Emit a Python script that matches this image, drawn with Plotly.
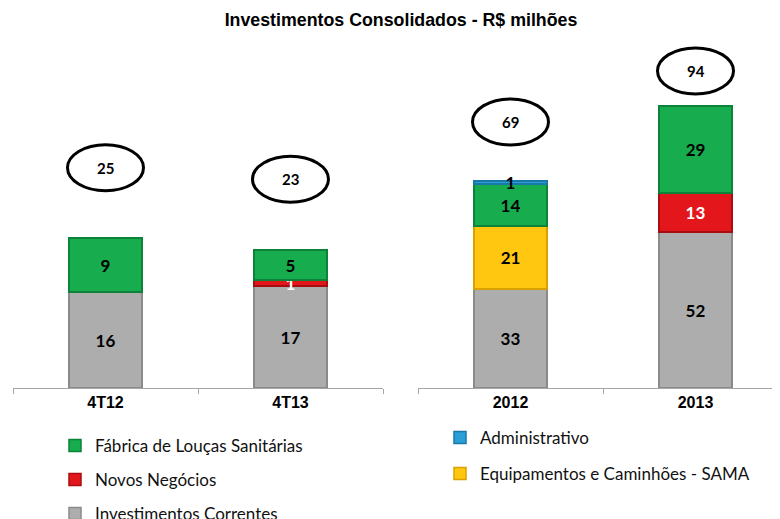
import plotly.graph_objects as go

# ---- data ----
cats_q = ["4T12", "4T13"]
cats_y = ["2012", "2013"]

inv_correntes_q = [16, 17]
novos_negocios_q = [None, 1]
fabrica_q = [9, 5]

inv_correntes_y = [33, 52]
novos_negocios_y = [None, 13]
sama_y = [21, None]
fabrica_y = [14, 29]
administrativo_y = [1, None]

names = {
    "ic": "Investimentos Correntes",
    "nn": "Novos Negócios",
    "sama": "Equipamentos e Caminhões - SAMA",
    "fab": "Fábrica de Louças Sanitárias",
    "adm": "Administrativo",
}

# ---- styles ----
fill = {"ic": "#ADADAD", "nn": "#E3171B", "sama": "#FFC70F", "fab": "#17AD4E", "adm": "#2A9ED6"}
edge = {"ic": "#8A8A8A", "nn": "#A80E10", "sama": "#D9A100", "fab": "#0D8239", "adm": "#1A78A8"}
txtcol = {"ic": "black", "nn": "white", "sama": "black", "fab": "black", "adm": "black"}
legend_of = {"fab": "legend", "nn": "legend2", "ic": "legend3", "adm": "legend4", "sama": "legend5"}

W, H = 780, 519
OFF = 8  # page offset of the plot div (body margin)

def px_x(s):  # screen x -> paper fraction
    return (s - OFF) / W

def px_y(s):  # screen y -> paper fraction
    return 1 - (s - OFF) / H

base_px = 388 - OFF
bw = 0.395

fig = go.Figure()

def add(key, cats, vals, xa, ya, showlegend):
    fig.add_trace(go.Bar(
        x=cats, y=vals, name=names[key], xaxis=xa, yaxis=ya,
        width=bw,
        marker=dict(color=fill[key], line=dict(color=edge[key], width=1.5)),
        text=[("" if v is None else str(v)) for v in vals],
        textposition="inside", insidetextanchor="middle", constraintext="none",
        textangle=0,
        textfont=dict(family="Lato", size=17, color=txtcol[key], weight="bold"),
        legend=legend_of[key], legendgroup=key,
        showlegend=showlegend, hoverinfo="skip",
    ))

# stacking order bottom -> top
add("ic", cats_q, inv_correntes_q, "x", "y", True)
add("nn", cats_q, novos_negocios_q, "x", "y", True)
add("fab", cats_q, fabrica_q, "x", "y", True)

add("ic", cats_y, inv_correntes_y, "x2", "y2", False)
add("nn", cats_y, novos_negocios_y, "x2", "y2", False)
add("sama", cats_y, sama_y, "x2", "y2", True)
add("fab", cats_y, fabrica_y, "x2", "y2", False)
add("adm", cats_y, administrativo_y, "x2", "y2", True)

# totals with ellipses
def tot(*series):
    return [sum(v for v in vals if v is not None) for vals in zip(*series)]

totals_q = tot(inv_correntes_q, novos_negocios_q, fabrica_q)
totals_y = tot(inv_correntes_y, novos_negocios_y, sama_y, fabrica_y, administrativo_y)
ell_off_q = [11.7, 11.8]
ell_off_y = [19.7, 11.7]

for xr, yr, totals, offs in (("x", "y", totals_q, ell_off_q), ("x2", "y2", totals_y, ell_off_y)):
    for i, (t, o) in enumerate(zip(totals, offs)):
        fig.add_shape(type="circle", xref=xr, yref=yr,
                      xsizemode="pixel", ysizemode="pixel",
                      xanchor=i, yanchor=t + o,
                      x0=-38, x1=38, y0=-23, y1=23,
                      line=dict(color="black", width=3))
        fig.add_annotation(x=i, y=t + o, xref=xr, yref=yr, text=str(t), showarrow=False,
                           font=dict(family="Lato", size=15, color="black", weight="bold"))

ydom0 = (H - base_px) / H
axis_common = dict(
    type="category", showline=True, linecolor="#A6A6A6", linewidth=1,
    ticks="outside", tickson="boundaries", ticklen=5, tickcolor="#A6A6A6",
    tickfont=dict(family="Liberation Sans", size=16, color="black", weight="bold"),
    showgrid=False, zeroline=False, fixedrange=True,
)

leg_font = dict(family="Lato", size=17, color="#111111")
def leg(xs, ys):
    return dict(x=px_x(xs), y=px_y(ys), xanchor="left", yanchor="middle",
                font=leg_font, bgcolor="rgba(0,0,0,0)", borderwidth=0)

fig.update_layout(
    width=W, height=H,
    margin=dict(l=0, r=0, t=0, b=0, autoexpand=False),
    paper_bgcolor="white", plot_bgcolor="white",
    barmode="stack",
    title=dict(text="<b>Investimentos Consolidados - R$ milhões</b>",
               x=px_x(401), xanchor="center", y=px_y(20), yanchor="middle",
               font=dict(family="Liberation Sans", size=17.8, color="black")),
    xaxis=dict(domain=[px_x(13), px_x(383)], range=[-0.5, 1.5], anchor="y", **axis_common),
    xaxis2=dict(domain=[px_x(418), 1], range=[-0.5, 1.5], anchor="y2", **axis_common),
    yaxis=dict(domain=[ydom0, 1], range=[0, base_px / 6], visible=False, fixedrange=True),
    yaxis2=dict(domain=[ydom0, 1], range=[0, base_px / 3], visible=False, anchor="x2", fixedrange=True),
    legend=leg(55, 446),
    legend2=leg(55, 480),
    legend3=leg(55, 514),
    legend4=leg(440, 438),
    legend5=leg(440, 474),
    showlegend=True,
)

fig.write_html("out.html")
